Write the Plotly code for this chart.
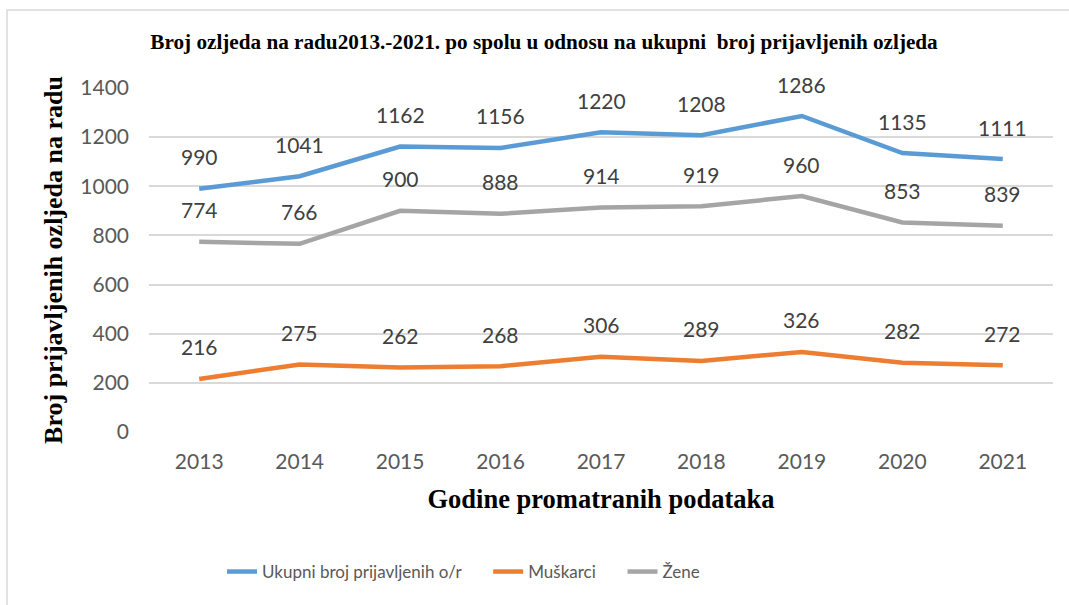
import plotly.graph_objects as go

years = ["2013", "2014", "2015", "2016", "2017", "2018", "2019", "2020", "2021"]
ukupno = [990, 1041, 1162, 1156, 1220, 1208, 1286, 1135, 1111]
muskarci = [216, 275, 262, 268, 306, 289, 326, 282, 272]
zene = [774, 766, 900, 888, 914, 919, 960, 853, 839]

series = [
    ("Ukupni broj prijavljenih o/r", ukupno, "#5B9BD5"),
    ("Muškarci", muskarci, "#ED7D31"),
    ("Žene", zene, "#A5A5A5"),
]

W, H = 1069, 605
ML, MR, MT, MB = 149, 16, 88, 173
PW = W - ML - MR
PH = H - MT - MB
SANS = "Lato"
PAD = "\u00a0" * 5  # extra spacing between legend entries

fig = go.Figure()
annotations = []
for name, vals, col in series:
    fig.add_trace(go.Scatter(
        x=years, y=vals, mode="lines", name=name + PAD,
        line=dict(color=col, width=4.5),
    ))
    for i, yv in enumerate(vals):
        annotations.append(dict(
            x=i, y=yv, xref="x", yref="y", text=str(yv), showarrow=False,
            yshift=32, yanchor="middle",
            font=dict(family=SANS, size=21, color="#404040"),
        ))

fig.update_layout(
    width=W, height=H,
    margin=dict(l=ML, r=MR, t=MT, b=MB, autoexpand=False),
    paper_bgcolor="white", plot_bgcolor="white",
    title=dict(
        text="<b>Broj ozljeda na radu2013.-2021. po spolu u odnosu na ukupni  broj prijavljenih ozljeda</b>",
        x=544 / W, xanchor="center", y=1 - 42 / H, yanchor="middle",
        font=dict(family="Liberation Serif", size=21.2, color="black"),
    ),
    xaxis=dict(
        type="category", range=[-0.5, 8.5], showgrid=False, zeroline=False,
        showline=False, ticks="", ticklabelstandoff=15, automargin=False,
        tickfont=dict(family=SANS, size=21, color="#595959"),
        title=dict(text="<b>Godine promatranih podataka</b>", standoff=17,
                   font=dict(family="Liberation Serif", size=26.5, color="black")),
    ),
    yaxis=dict(
        range=[0, 1400], dtick=200, showgrid=True, gridcolor="#D9D9D9", gridwidth=1.5,
        zeroline=False, showline=False, ticks="", ticklabelstandoff=19, automargin=False,
        tickfont=dict(family=SANS, size=21, color="#595959"),
        title=dict(text="<b>Broj prijavljenih ozljeda na radu</b>", standoff=10,
                   font=dict(family="Liberation Serif", size=26, color="black")),
    ),
    legend=dict(
        orientation="h", x=(222 - ML) / PW, xanchor="left",
        y=-(572 - (MT + PH)) / PH, yanchor="middle",
        font=dict(family=SANS, size=17, color="#595959"),
        itemwidth=30, tracegroupgap=0,
    ),
    annotations=annotations,
    showlegend=True,
)

fig.add_shape(type="rect", xref="paper", yref="paper",
              x0=(7 - ML) / PW, x1=(W + 20 - ML) / PW,
              y0=-(H + 20 - MT - PH) / PH, y1=(MT + PH - 10) / PH,
              line=dict(color="#D9D9D9", width=1.5), fillcolor="rgba(0,0,0,0)", layer="below")

fig.write_html("out.html", config={"displayModeBar": False},
               post_script="document.body.style.margin='0';document.body.style.overflow='hidden';")
